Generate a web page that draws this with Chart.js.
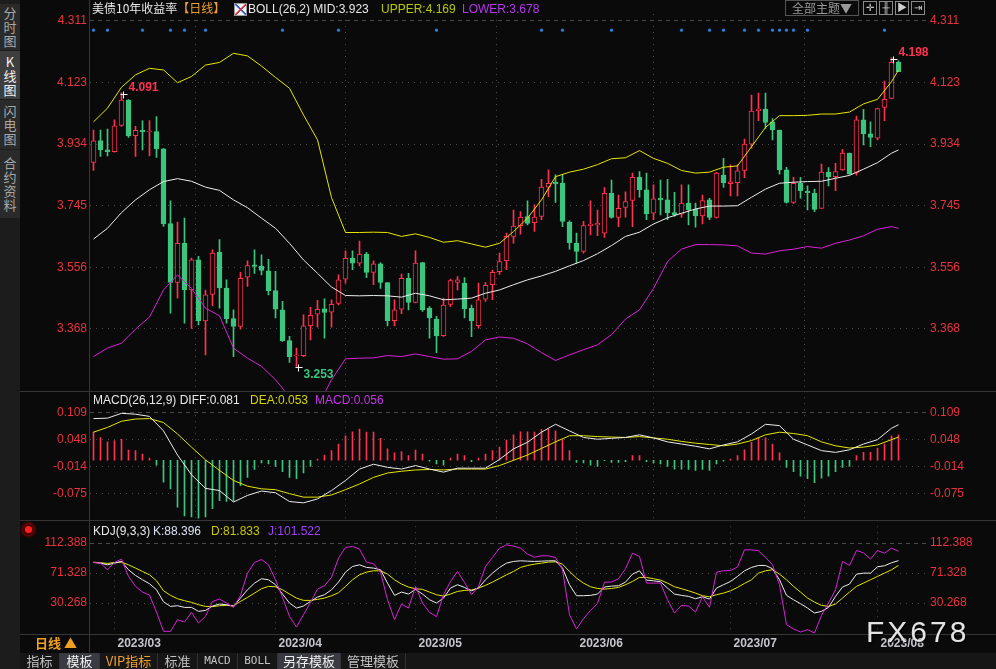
<!DOCTYPE html>
<html lang="zh-CN">
<head>
<meta charset="UTF-8">
<meta name="viewport" content="width=device-width, initial-scale=1.0">
<title>美债10年收益率 日线</title>
<script src="https://cdn.jsdelivr.net/npm/chart.js"></script>
<style>
  html, body { margin: 0; padding: 0; background: #0a0a0a; }
  body { position: relative; width: 996px; height: 669px; overflow: hidden;
         font-family: "Liberation Sans", "Noto Sans CJK SC", sans-serif; font-size: 12px; color: #e6e6e6; }
  canvas.panel { position: absolute; left: 20px; }
  #cMain { top: 0; }
  #cMacd { top: 381px; }
  #cKdj { top: 510px; }
  .abs { position: absolute; white-space: nowrap; line-height: 14px; }
  .hline { position: absolute; left: 20px; width: 976px; height: 1px; background: #363636; }
  .vline { position: absolute; left: 89px; top: 0; width: 1px; height: 652px; background: #363636; }
  #side { position: absolute; left: 0; top: 0; width: 20px; height: 669px; background: #1c1c1c; }
  .stab { position: absolute; left: 0; width: 20px; background: #2a2a2a; color: #a8a8a8;
          font-family: "Noto Sans CJK SC"; font-size: 13px; line-height: 14px; text-align: center; }
  .stab.on { background: #3e3e3e; color: #f2f2f2; }
  .cjk { font-family: "Noto Sans CJK SC"; }
  #btnTheme { position: absolute; left: 785px; top: 0; width: 72px; height: 14px; border: 1px solid #555;
              color: #9a9a9a; font-family: "Noto Sans CJK SC"; font-size: 12px; line-height: 14px; text-align: center; }
  .ico { position: absolute; top: 1px; width: 12px; height: 12px; border: 1px solid #8a8a8a;
         color: #cfcfcf; font-size: 10px; line-height: 12px; text-align: center; }
  #tabs { position: absolute; left: 20px; top: 653px; width: 976px; height: 16px; background: #161616; }
  .btab { position: absolute; top: 0; height: 16px; line-height: 16px; color: #c4c4c4; text-align: center;
          font-family: "Noto Sans CJK SC"; font-size: 13px; border-right: 1px solid #333; }
  .btab.on { background: #3a3a42; color: #f0f0f0; }
  .mono { font-family: "DejaVu Sans Mono", monospace; font-size: 11px; }
  #wm { position: absolute; left: 866px; top: 614px; font-size: 30px; letter-spacing: 3px; color: #e4e4e4;
        text-shadow: 1px 1px 1px #000; line-height: 36px; }
</style>
</head>
<body>

<div id="side">
  <div class="stab" style="top:4px;height:44px;padding-top:2px">分<br>时<br>图</div>
  <div class="stab on" style="top:51px;height:44px;padding-top:4px">K<br>线<br>图</div>
  <div class="stab" style="top:100px;height:45px;padding-top:4px">闪<br>电<br>图</div>
  <div class="stab" style="top:150px;height:62px;padding-top:6px">合<br>约<br>资<br>料</div>
</div>

<canvas id="cMain" class="panel" width="976" height="401"></canvas>
<canvas id="cMacd" class="panel" width="976" height="149"></canvas>
<canvas id="cKdj" class="panel" width="976" height="142"></canvas>

<div class="vline"></div>
<div class="hline" style="top:391px"></div>
<div class="hline" style="top:520px"></div>
<div class="hline" style="top:634px"></div>

<!-- header row -->
<div class="abs cjk" style="left:92px;top:1px;color:#e8e8e8">美债10年收益率<span style="color:#f0a030">【日线】</span></div>
<div class="abs" style="left:234px;top:3px;width:11px;height:11px;background:#f4f4f4;border:1px solid #999;
     background-image:linear-gradient(135deg,transparent 45%,#e03040 46%,#e03040 55%,transparent 56%),linear-gradient(45deg,transparent 45%,#3060d0 46%,#3060d0 55%,transparent 56%)"></div>
<div class="abs" style="left:248px;top:2px;color:#e8e8e8">BOLL(26,2) MID:3.923</div>
<div class="abs" style="left:381px;top:2px;color:#b8c800">UPPER:4.169</div>
<div class="abs" style="left:462px;top:2px;color:#b638f0">LOWER:3.678</div>

<div id="btnTheme">全部主题▼</div>
<div class="ico" style="left:863px">✛</div>
<div class="ico" style="left:879px">╫</div>
<div class="ico" style="left:895px">▶</div>
<div class="ico" style="left:911px">⇥</div>

<!-- sub panel titles -->
<div class="abs" style="left:93px;top:393px;color:#e8e8e8">MACD(26,12,9) DIFF:0.081</div>
<div class="abs" style="left:250px;top:393px;color:#d4d400">DEA:0.053</div>
<div class="abs" style="left:315px;top:393px;color:#c834e8">MACD:0.056</div>

<div class="abs" style="left:25px;top:526px;width:7px;height:7px;border-radius:50%;background:#ff2020;box-shadow:0 0 0 2px #400,0 0 3px 3px #a00"></div>
<div class="abs" style="left:93px;top:524px;color:#e8e8e8">KDJ(9,3,3)</div>
<div class="abs" style="left:153px;top:524px;color:#d8e2f2">K:88.396</div>
<div class="abs" style="left:211px;top:524px;color:#c8c800">D:81.833</div>
<div class="abs" style="left:268px;top:524px;color:#a040ff">J:101.522</div>

<div class="abs cjk" style="left:35px;top:635px;color:#f0a020;font-weight:bold;font-size:13px;line-height:16px">日线 ▲</div>

<div id="tabs">
  <div class="btab" style="left:0;width:39px">指标</div>
  <div class="btab on" style="left:40px;width:39px">模板</div>
  <div class="btab" style="left:80px;width:57px;color:#f0a030">VIP指标</div>
  <div class="btab" style="left:138px;width:39px">标准</div>
  <div class="btab mono" style="left:178px;width:39px">MACD</div>
  <div class="btab mono" style="left:218px;width:39px">BOLL</div>
  <div class="btab on" style="left:258px;width:62px">另存模板</div>
  <div class="btab" style="left:321px;width:64px">管理模板</div>
</div>

<div id="wm">FX678</div>

<script>
// ---- candles (index 0 = 2023-02 end, one per trading day) ----
const opens = [3.878,3.945,3.916,3.911,3.991,4.069,3.960,3.976,3.971,3.972,
  3.919,3.690,3.510,3.631,3.487,3.579,3.392,3.473,3.602,3.493,
  3.399,3.375,3.526,3.564,3.560,3.546,3.485,3.426,3.332,3.285,
  3.286,3.378,3.413,3.429,3.419,3.446,3.520,3.585,3.569,3.597,
  3.541,3.567,3.510,3.393,3.428,3.523,3.449,3.571,3.431,3.398,
  3.347,3.443,3.510,3.508,3.431,3.378,3.459,3.503,3.543,3.577,
  3.651,3.684,3.712,3.693,3.712,3.802,3.817,3.814,3.695,3.630,
  3.605,3.684,3.686,3.661,3.783,3.709,3.740,3.761,3.832,3.794,
  3.722,3.768,3.763,3.724,3.719,3.753,3.734,3.714,3.763,3.709,
  3.839,3.813,3.816,3.853,3.934,4.036,4.041,4.002,3.977,3.855,
  3.755,3.814,3.790,3.783,3.737,3.848,3.834,3.855,3.906,3.847,
  4.008,3.965,3.952,4.046,4.074,4.184];
const closes = [3.944,3.916,3.911,3.990,4.069,3.959,3.976,3.972,3.974,3.919,
  3.689,3.510,3.630,3.487,3.579,3.392,3.472,3.600,3.493,3.399,
  3.375,3.523,3.562,3.559,3.547,3.485,3.428,3.332,3.283,3.287,
  3.377,3.409,3.428,3.418,3.443,3.518,3.584,3.569,3.597,3.541,
  3.567,3.510,3.393,3.426,3.523,3.449,3.569,3.426,3.401,3.346,
  3.441,3.516,3.518,3.430,3.393,3.457,3.501,3.541,3.574,3.651,
  3.683,3.710,3.691,3.710,3.802,3.814,3.812,3.697,3.632,3.605,
  3.684,3.689,3.691,3.783,3.709,3.737,3.758,3.832,3.794,3.720,
  3.766,3.763,3.724,3.717,3.753,3.732,3.714,3.761,3.709,3.845,
  3.816,3.818,3.852,3.934,4.035,4.041,4.000,3.977,3.855,3.755,
  3.814,3.791,3.785,3.734,3.848,3.834,3.850,3.906,3.842,4.008,
  3.965,3.954,4.043,4.071,4.184,4.156];
const highs = [3.977,3.977,3.980,4.008,4.091,4.070,3.988,4.005,4.006,4.018,
  3.920,3.760,3.695,3.707,3.585,3.590,3.487,3.610,3.641,3.518,
  3.426,3.541,3.576,3.610,3.595,3.581,3.544,3.452,3.345,3.309,
  3.411,3.434,3.455,3.460,3.457,3.533,3.607,3.607,3.637,3.602,
  3.576,3.571,3.510,3.457,3.536,3.538,3.607,3.571,3.436,3.406,
  3.462,3.520,3.528,3.525,3.441,3.508,3.510,3.548,3.600,3.661,
  3.732,3.727,3.760,3.748,3.826,3.855,3.840,3.841,3.699,3.661,
  3.697,3.760,3.732,3.801,3.824,3.778,3.788,3.845,3.850,3.845,
  3.809,3.824,3.826,3.786,3.809,3.809,3.753,3.778,3.768,3.847,
  3.890,3.870,3.870,3.949,4.084,4.090,4.090,4.012,3.977,3.863,
  3.832,3.832,3.806,3.796,3.873,3.862,3.875,3.918,3.906,4.020,
  4.040,4.002,4.044,4.127,4.198,4.189];
const lows = [3.853,3.896,3.898,3.909,3.988,3.954,3.896,3.916,3.898,3.893,
  3.682,3.416,3.462,3.385,3.369,3.380,3.288,3.438,3.431,3.385,
  3.283,3.367,3.498,3.538,3.533,3.472,3.401,3.329,3.265,3.253,
  3.283,3.334,3.373,3.339,3.373,3.441,3.508,3.549,3.561,3.525,
  3.503,3.492,3.377,3.377,3.414,3.426,3.447,3.421,3.339,3.295,
  3.345,3.436,3.487,3.401,3.344,3.370,3.452,3.457,3.535,3.549,
  3.630,3.658,3.686,3.666,3.702,3.773,3.755,3.681,3.612,3.569,
  3.600,3.656,3.653,3.648,3.707,3.681,3.710,3.681,3.771,3.702,
  3.702,3.717,3.702,3.712,3.709,3.686,3.679,3.689,3.702,3.707,
  3.801,3.775,3.775,3.831,3.921,4.006,3.982,3.947,3.842,3.753,
  3.752,3.768,3.732,3.727,3.737,3.806,3.791,3.853,3.842,3.839,
  3.931,3.926,3.947,4.006,4.072,4.156];

// ---- BOLL(26,2), read every second session ----
const bollIdx = [0,2,4,6,8,10,12,14,16,18,20,22,24,26,28,30,32,34,36,38,40,42,44,46,48,50,52,54,56,58,
  60,62,64,66,68,70,72,74,76,78,80,82,84,86,88,90,92,94,96,98,100,102,104,106,108,110,112,114,115];
const bollUpper = [4.002,4.044,4.108,4.146,4.166,4.161,4.122,4.141,4.176,4.184,4.212,4.204,4.173,4.138,4.105,
  4.023,3.947,3.770,3.663,3.663,3.664,3.663,3.651,3.659,3.648,3.633,3.638,3.628,3.618,3.630,
  3.666,3.707,3.763,3.834,3.848,3.857,3.871,3.889,3.892,3.914,3.890,3.875,3.853,3.845,3.848,
  3.863,3.867,3.926,3.985,4.021,4.021,4.022,4.026,4.026,4.032,4.057,4.071,4.125,4.161];
const bollMid = [3.643,3.676,3.724,3.763,3.794,3.819,3.828,3.820,3.802,3.792,3.763,3.739,3.707,3.676,3.630,
  3.579,3.538,3.496,3.470,3.469,3.470,3.469,3.465,3.477,3.469,3.457,3.459,3.462,3.477,3.487,
  3.503,3.518,3.530,3.544,3.561,3.577,3.598,3.623,3.651,3.664,3.689,3.708,3.722,3.735,3.744,
  3.744,3.745,3.771,3.796,3.814,3.817,3.819,3.820,3.829,3.838,3.857,3.877,3.906,3.916];
const bollLower = [3.283,3.309,3.324,3.367,3.404,3.487,3.533,3.492,3.431,3.408,3.309,3.278,3.253,3.212,3.160,
  3.135,3.130,3.212,3.276,3.278,3.279,3.286,3.283,3.291,3.283,3.275,3.276,3.299,3.334,3.343,
  3.339,3.322,3.295,3.271,3.288,3.304,3.319,3.350,3.398,3.426,3.492,3.574,3.612,3.626,3.626,
  3.625,3.622,3.600,3.597,3.607,3.612,3.620,3.615,3.630,3.640,3.653,3.673,3.681,3.676];

// sessions flagged with a blue dot along the top
const newsIdx = [0,2,7,11,13,16,27,35,49,64,67,74,84,88,90,93,95,97,98,99,100,102,113];
const hiIdx = [4, 114];
const loIdx = [29];

// ---- MACD(26,12,9) ----
const macdHist = [0.064,0.052,0.042,0.045,0.048,0.023,0.022,0.014,0.005,-0.011,
  -0.050,-0.065,-0.107,-0.127,-0.129,-0.132,-0.129,-0.110,-0.092,-0.094,
  -0.093,-0.058,-0.039,-0.021,-0.006,-0.008,-0.014,-0.026,-0.039,-0.042,
  -0.029,-0.014,0.003,0.012,0.022,0.037,0.056,0.065,0.071,0.064,
  0.064,0.050,0.026,0.017,0.020,0.011,0.023,0.014,-0.002,-0.008,
  -0.011,0.005,0.014,0.011,-0.003,0.005,0.014,0.022,0.030,0.046,
  0.058,0.065,0.065,0.064,0.070,0.071,0.067,0.047,0.022,-0.005,
  -0.006,-0.011,-0.014,-0.001,-0.005,-0.005,-0.003,0.011,0.011,-0.003,
  -0.006,-0.008,-0.014,-0.020,-0.020,-0.021,-0.023,-0.021,-0.023,-0.008,
  -0.002,0.003,0.011,0.024,0.041,0.052,0.051,0.037,0.017,-0.016,
  -0.026,-0.036,-0.042,-0.051,-0.041,-0.036,-0.026,-0.016,-0.014,0.011,
  0.018,0.018,0.028,0.037,0.056,0.058];
const macdDiff = [0.095,0.096,0.107,0.105,0.100,0.067,0.012,-0.033,-0.064,-0.069,-0.095,-0.080,-0.070,-0.074,-0.094,
  -0.097,-0.088,-0.069,-0.046,-0.020,-0.009,-0.016,-0.020,-0.012,-0.020,-0.027,-0.018,-0.018,-0.018,0.002,
  0.026,0.041,0.064,0.082,0.067,0.052,0.048,0.050,0.052,0.058,0.051,0.042,0.037,0.032,0.026,
  0.035,0.042,0.060,0.082,0.079,0.048,0.035,0.022,0.018,0.024,0.037,0.047,0.073,0.081];
const macdDea = [0.064,0.075,0.089,0.094,0.095,0.086,0.060,0.030,0.001,-0.023,-0.046,-0.059,-0.065,-0.067,-0.076,
  -0.084,-0.084,-0.079,-0.067,-0.054,-0.039,-0.029,-0.025,-0.022,-0.021,-0.022,-0.020,-0.020,-0.020,-0.012,
  0.000,0.012,0.027,0.042,0.056,0.056,0.054,0.053,0.052,0.054,0.051,0.048,0.043,0.039,0.036,
  0.033,0.037,0.045,0.058,0.064,0.061,0.056,0.042,0.033,0.028,0.030,0.035,0.047,0.053];

// ---- KDJ(9,3,3) ----
const kdjK = [85.9,85.0,82.7,85.0,87.3,75.9,68.1,62.2,56.7,48.5,
  32.0,25.7,26.6,24.3,24.3,18.9,20.2,26.2,28.9,28.0,
  25.7,37.1,48.5,57.6,63.6,62.2,55.4,42.6,30.3,23.4,
  26.2,32.5,38.5,41.7,48.5,59.0,72.7,80.4,82.7,79.1,
  78.2,75.9,57.6,40.8,45.3,42.6,49.0,42.6,34.8,30.3,
  37.1,50.8,55.4,51.7,47.1,50.8,62.2,71.3,79.0,85.0,
  87.3,88.2,87.7,87.3,87.7,88.2,88.2,78.2,55.4,40.3,
  40.3,40.8,42.6,52.2,53.5,54.0,59.0,69.9,74.5,61.7,
  60.8,59.5,50.8,42.6,40.8,39.4,36.2,38.9,35.7,50.8,
  55.4,59.9,66.8,74.5,79.1,81.8,81.8,77.3,62.2,40.8,
  34.8,29.4,23.4,16.6,18.9,24.3,39.4,52.2,56.3,69.9,
  71.3,71.3,80.0,81.4,85.5,88.4];
const kdjD = [86.4,85.5,84.6,85.9,86.4,82.7,78.2,73.6,69.0,60.8,
  47.1,40.8,36.2,33.5,31.2,28.0,25.7,25.3,26.6,27.1,
  26.6,32.5,38.0,43.9,49.9,53.1,52.6,48.5,42.6,37.1,
  33.9,33.9,35.3,37.1,40.3,44.4,53.1,62.2,69.0,72.7,
  74.5,74.5,70.0,62.2,56.3,52.2,49.9,49.0,45.3,41.7,
  39.8,42.6,46.2,47.6,48.1,50.8,54.5,59.0,64.0,69.0,
  73.6,79.1,81.8,83.6,85.0,86.4,86.8,83.6,73.6,64.5,
  57.6,52.6,50.3,49.4,50.3,51.7,55.4,59.9,65.4,65.4,
  63.6,61.7,57.6,52.6,49.9,47.1,43.9,40.3,38.9,41.7,
  43.9,47.1,51.7,57.2,62.2,71.3,74.5,75.9,69.9,62.2,
  53.1,45.3,37.1,31.6,27.1,25.7,28.9,37.1,45.3,53.1,
  57.6,62.2,66.8,71.3,75.9,81.8];
const kdjJ = [85.9,85.0,75.9,85.9,90.5,66.8,53.1,45.3,41.2,18.0,
  -8.5,-8.5,7.5,4.3,17.5,2.9,12.0,32.5,35.7,30.3,
  24.3,40.8,71.3,85.9,90.0,82.7,62.2,38.0,12.0,-2.6,
  14.3,31.2,49.4,54.0,65.4,91.9,106.5,107.8,104.2,86.4,
  84.1,72.7,34.8,7.5,28.9,23.4,53.1,30.3,17.5,11.6,
  41.7,59.9,73.6,58.6,41.7,53.1,80.4,92.8,105.5,110.1,
  108.3,105.5,97.3,93.2,95.0,95.0,92.8,75.9,14.3,-5.3,
  8.8,20.2,29.8,59.0,59.0,63.6,77.3,98.7,94.1,57.6,
  57.6,57.6,34.8,16.6,27.1,26.2,18.0,38.9,24.3,72.7,
  74.5,75.0,79.5,103.3,103.3,101.9,92.8,82.7,55.4,0.6,
  -5.3,-9.4,-6.2,-10.8,13.4,30.3,48.5,87.3,81.8,102.3,
  99.2,90.5,102.3,98.7,105.5,101.5];

// ---- axes ----
const monthIdx = [3, 26, 46, 69, 91, 112];
const monthLabels = ['2023/03', '2023/04', '2023/05', '2023/06', '2023/07', '2023/08'];
const priceTicks = [4.311, 4.123, 3.934, 3.745, 3.556, 3.368];
const macdTicks = [0.109, 0.048, -0.014, -0.075];
const kdjTicks = [112.388, 71.328, 30.268];

const RED = '#ff3350', GREEN = '#3cc57e', BG = '#0a0a0a';
const AXIS_RED = '#e8333f', GRID = '#4a4a4a';

Chart.defaults.font.family = '"Liberation Sans", "Noto Sans CJK SC", sans-serif';
Chart.defaults.font.size = 12;
Chart.defaults.animation = false;
Chart.defaults.events = [];
Chart.defaults.plugins.legend.display = false;
Chart.defaults.plugins.tooltip.enabled = false;

function xAxis(showLabels) {
  return {
    type: 'linear', min: -0.5, max: 119.07, offset: false,
    afterBuildTicks: s => { s.ticks = monthIdx.map(v => ({ value: v })); },
    afterFit: s => { s.height = showLabels ? 18 : 0; },
    grid: { color: GRID, drawTicks: false },
    border: { display: false, dash: [1, 5] },
    ticks: {
      display: showLabels, autoSkip: false, maxRotation: 0, align: 'start', labelOffset: 3, padding: 2,
      color: '#c4c4cc', font: { weight: 'bold', size: 12 },
      callback: v => monthLabels[monthIdx.indexOf(v)]
    }
  };
}

function yAxis(pos, min, max, ticks, w) {
  return {
    position: pos, min: min, max: max,
    afterBuildTicks: s => { s.ticks = ticks.map(v => ({ value: v })); },
    afterFit: s => { s.width = w; },
    grid: { display: pos === 'left', drawTicks: false, color: GRID },
    border: { display: false, dash: c => (c.index === 0 ? [4, 4] : [1, 5]) },
    ticks: { color: AXIS_RED, padding: 3, callback: v => v.toFixed(3) }
  };
}

function lineSet(xs, ys, color, order) {
  return {
    type: 'line', data: xs.map((x, k) => ({ x: x, y: ys[k] })),
    borderColor: color, borderWidth: 1, pointRadius: 0, tension: 0, order: order
  };
}

const allIdx = opens.map((_, i) => i);
const isUp = allIdx.map(i => closes[i] >= opens[i]);

// high / low annotations on the price panel
const markPlugin = {
  id: 'hiLoMarks',
  afterDatasetsDraw(chart) {
    const { ctx, scales: { x, y } } = chart;
    const marks = hiIdx.map(i => ({ i: i, v: highs[i], hi: true }))
      .concat(loIdx.map(i => ({ i: i, v: lows[i], hi: false })));
    ctx.save();
    marks.forEach(m => {
      const px = Math.round(x.getPixelForValue(m.i)) + 1.5;
      const py = Math.round(y.getPixelForValue(m.v)) + 1.5;
      ctx.strokeStyle = '#ffffff';
      ctx.lineWidth = 1;
      ctx.beginPath();
      ctx.moveTo(px - 3, py); ctx.lineTo(px + 4, py);
      ctx.moveTo(px, py - 3); ctx.lineTo(px, py + 4);
      ctx.stroke();
      ctx.font = 'bold 12px "Liberation Sans", sans-serif';
      ctx.textBaseline = 'middle';
      ctx.fillStyle = m.hi ? RED : GREEN;
      ctx.fillText(m.v.toFixed(3), px + 5, m.hi ? py - 7 : py + 7);
    });
    ctx.restore();
  }
};

new Chart(document.getElementById('cMain'), {
  type: 'bar',
  data: {
    datasets: [
      {
        type: 'bar', grouped: false, barThickness: 1, order: 4,
        data: allIdx.map(i => ({ x: i, y: [lows[i], highs[i]] })),
        backgroundColor: allIdx.map(i => (isUp[i] ? RED : GREEN)), borderWidth: 0
      },
      {
        type: 'bar', grouped: false, barThickness: 5, order: 3, minBarLength: 1, borderSkipped: false,
        data: allIdx.map(i => ({ x: i, y: [Math.min(opens[i], closes[i]), Math.max(opens[i], closes[i])] })),
        backgroundColor: allIdx.map(i => (isUp[i] ? BG : GREEN)),
        borderColor: allIdx.map(i => (isUp[i] ? RED : GREEN)), borderWidth: 1
      },
      lineSet(bollIdx, bollUpper, '#e6e600', 1),
      lineSet(bollIdx, bollMid, '#ececec', 1),
      lineSet(bollIdx, bollLower, '#d824d8', 1),
      {
        type: 'line', showLine: false, order: 0,
        data: newsIdx.map(i => ({ x: i, y: 4.283 })),
        pointRadius: 1.6, pointBackgroundColor: '#2d7fd6', pointBorderWidth: 0
      }
    ]
  },
  options: {
    responsive: false,
    layout: { padding: { top: 14, bottom: 10, left: 0, right: 0 } },
    scales: {
      x: xAxis(false),
      y: yAxis('left', 3.1781, 4.3324, priceTicks, 70),
      y2: yAxis('right', 3.1781, 4.3324, priceTicks, 69)
    }
  },
  plugins: [markPlugin]
});

new Chart(document.getElementById('cMacd'), {
  type: 'bar',
  data: {
    datasets: [
      {
        type: 'bar', grouped: false, barThickness: 1, order: 3,
        data: macdHist.map((v, i) => ({ x: i, y: v })),
        backgroundColor: macdHist.map(v => (v >= 0 ? RED : GREEN)), borderWidth: 0
      },
      lineSet(bollIdx, macdDiff, '#ececec', 1),
      lineSet(bollIdx, macdDea, '#e6e600', 2)
    ]
  },
  options: {
    responsive: false,
    layout: { padding: { top: 10, bottom: 10, left: 0, right: 0 } },
    scales: {
      x: xAxis(false),
      y: yAxis('left', -0.1356, 0.1574, macdTicks, 70),
      y2: yAxis('right', -0.1356, 0.1574, macdTicks, 69)
    }
  }
});

new Chart(document.getElementById('cKdj'), {
  type: 'line',
  data: {
    datasets: [
      lineSet(allIdx, kdjD, '#e6e600', 3),
      lineSet(allIdx, kdjK, '#ececec', 2),
      lineSet(allIdx, kdjJ, '#d824d8', 1)
    ]
  },
  options: {
    responsive: false,
    layout: { padding: { top: 10, bottom: 0, left: 0, right: 0 } },
    scales: {
      x: xAxis(true),
      y: yAxis('left', -12.17, 143.87, kdjTicks, 70),
      y2: yAxis('right', -12.17, 143.87, kdjTicks, 69)
    }
  }
});
</script>
</body>
</html>
